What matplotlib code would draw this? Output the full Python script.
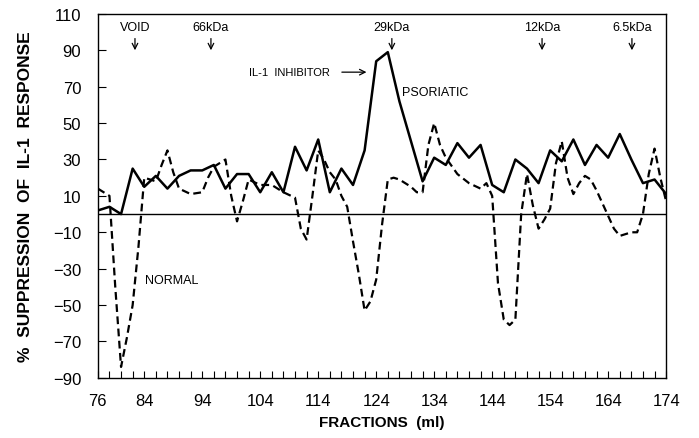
import matplotlib
matplotlib.use("Agg")
import matplotlib.pyplot as plt
from matplotlib.ticker import FixedLocator, MultipleLocator

plt.rcParams['font.family'] = ['Liberation Sans', 'DejaVu Sans']

# psoriatic (solid) - one reading every 2 ml
psor_ml = [76, 78, 80, 82, 84, 86, 88, 90, 92, 94, 96, 98, 100, 102, 104, 106, 108,
           110, 112, 114, 116, 118, 120, 122, 124, 126, 128, 130, 132, 134, 136, 138,
           140, 142, 144, 146, 148, 150, 152, 154, 156, 158, 160, 162, 164, 166, 168,
           170, 172, 174]
psor_val = [2, 4, 0, 25, 15, 21, 14, 21, 24, 24, 27, 14, 22, 22, 12, 23, 12,
            37, 24, 41, 12, 25, 16, 35, 84, 89, 62, 40, 18, 31, 27, 39,
            31, 38, 16, 12, 30, 25, 17, 35, 29, 41, 27, 38, 31, 44, 30,
            17, 19, 11]

# normal (dashed)
norm_ml = [76, 77, 78, 79, 80, 81, 82, 83, 84, 86, 87, 88, 89, 90, 92, 94, 95, 96,
           98, 99, 100, 101, 102, 104, 106, 108, 110, 111, 112, 113, 114, 115, 116,
           117, 118, 119, 120, 121, 122, 123, 124, 125, 126, 127, 128, 130, 131, 132,
           133, 134, 135, 136, 138, 140, 142, 143, 144, 145, 146, 147, 148, 149, 150,
           151, 152, 153, 154, 155, 156, 157, 158, 159, 160, 161, 162, 163, 164, 165,
           166, 168, 169, 170, 171, 172, 173, 174]
norm_val = [14, 12, 10, -40, -84, -68, -50, -18, 20, 18, 27, 35, 23, 14, 11, 12, 20, 26,
            30, 10, -4, 7, 19, 16, 16, 12, 9, -8, -14, 10, 35, 30, 23,
            19, 10, 4, -15, -33, -53, -48, -36, -6, 19, 20, 19, 15, 12, 12,
            38, 50, 38, 31, 22, 17, 14, 17, 10, -38, -58, -61, -58, 0, 22,
            5, -8, -3, 3, 28, 40, 20, 11, 17, 21, 19, 13, 6, -1, -8,
            -12, -10, -10, 0, 22, 36, 20, 7]

x_ticks = [76, 84, 94, 104, 114, 124, 134, 144, 154, 164, 174]
y_ticks = [110, 90, 70, 50, 30, 10, -10, -30, -50, -70, -90]

markers = ["VOID", "66kDa", "29kDa", "12kDa", "6.5kDa"]
marker_ml = [82.4, 95.5, 126.7, 152.6, 168.1]

fig = plt.figure(figsize=(6.99, 4.39), dpi=100)
ax = fig.add_axes([0.140, 0.137, 0.813, 0.829])

ax.plot(psor_ml, psor_val, color='black', lw=1.8)
ax.plot(norm_ml, norm_val, color='black', lw=1.6, dashes=(3.5, 2))
ax.axhline(0, color='black', lw=1)

ax.set_xlim(76, 174)
ax.set_ylim(-90, 110)
ax.xaxis.set_major_locator(FixedLocator(x_ticks))
ax.xaxis.set_minor_locator(MultipleLocator(2))
ax.yaxis.set_major_locator(FixedLocator(y_ticks))
ax.tick_params(axis='both', which='both', direction='in', top=False, right=False,
               labelsize=12, width=0.8)
ax.tick_params(axis='x', which='both', length=5, pad=11)
ax.tick_params(axis='y', length=6, pad=12)
for s in ax.spines.values():
    s.set_linewidth(1)

# molecular weight markers along the top
for name, m in zip(markers, marker_ml):
    ax.text(m, 103, name, ha='center', va='center', fontsize=9)
    ax.annotate('', xy=(m, 88.5), xytext=(m, 98),
                arrowprops=dict(arrowstyle='->', lw=0.9, color='black'))

ax.text(109.1, 78, "IL-1  INHIBITOR", ha='center', va='center', fontsize=8)
ax.annotate('', xy=(122.8, 78), xytext=(117.6, 78),
            arrowprops=dict(arrowstyle='->', lw=0.9, color='black'))
ax.text(128.4, 67, "PSORIATIC", ha='left', va='center', fontsize=9)
ax.text(84.1, -36, "NORMAL", ha='left', va='center', fontsize=9)

ax.set_xlabel("FRACTIONS  (ml)", fontsize=11, fontweight='bold', labelpad=5)
ax.set_ylabel("%  SUPPRESSION  OF  IL-1  RESPONSE", fontsize=12.5, fontweight='bold',
              labelpad=14)

fig.savefig("out.png", dpi=100)
